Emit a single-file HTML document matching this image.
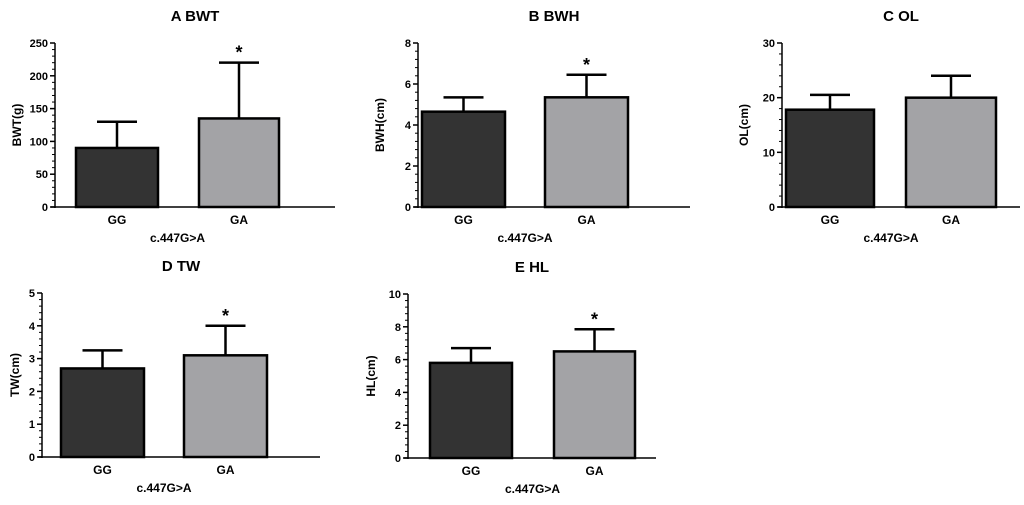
<!DOCTYPE html>
<html><head><meta charset="utf-8"><style>
html,body{margin:0;padding:0;background:#fff;}
svg{display:block;font-family:"Liberation Sans",Arial,sans-serif;}
</style></head><body>
<svg id="c" width="1024" height="505" viewBox="0 0 1024 505"></svg>
<script>
const categories = ["GG","GA"];
const panelTitles = ["A BWT","B BWH","C OL","D TW","E HL"];
const yTitles = ["BWT(g)","BWH(cm)","OL(cm)","TW(cm)","HL(cm)"];
const meansA = [90,135], errA = [130,220];
const meansB = [4.65,5.35], errB = [5.35,6.45];
const meansC = [17.8,20], errC = [20.5,24];
const meansD = [2.7,3.1], errD = [3.25,4.0];
const meansE = [5.8,6.5], errE = [6.7,7.85];
const ticksA = [0,50,100,150,200,250];
const ticksB = [0,2,4,6,8];
const ticksC = [0,10,20,30];
const ticksD = [0,1,2,3,4,5];
const ticksE = [0,2,4,6,8,10];
const sig = ["*","*","",'*','*'];
const NS="http://www.w3.org/2000/svg";
const svg=document.getElementById('c');
function mk(tag,attrs,parent,text){const e=document.createElementNS(NS,tag);for(const k in attrs)e.setAttribute(k,attrs[k]);if(text!==undefined)e.textContent=text;(parent||svg).appendChild(e);return e;}
const layouts=[
 {ax:55,top:43,bot:207,end:335,yo:38,bars:[[76,158],[199,279]]},
 {ax:418,top:43,bot:207,end:690,yo:38,bars:[[422,505],[545,628]]},
 {ax:782,top:43,bot:207,end:1020,yo:38,bars:[[786,874],[906,996]]},
 {ax:42,top:293,bot:457,end:320,yo:27,bars:[[61,144],[184,267]]},
 {ax:408,top:294,bot:458,end:656,yo:37,bars:[[430,512],[554,635]]}];
const means=[meansA,meansB,meansC,meansD,meansE];
const errs=[errA,errB,errC,errD,errE];
const ticks=[ticksA,ticksB,ticksC,ticksD,ticksE];
const colors=["#333333","#a3a3a6"];
layouts.forEach((L,p)=>{
 const g=mk('g',{});
 
 
 const t=ticks[p],mx=t[t.length-1];
 const y=v=>L.bot-(v/mx)*(L.bot-L.top);
 const cx=(L.ax+L.end)/2;
 const tt=mk('text',{x:cx,y:L.top-22,'text-anchor':'middle','font-size':15,'font-weight':'bold'},g,panelTitles[p]);
 
 L.bars.forEach((b,i)=>{
  const m=means[p][i],e=errs[p][i],bx=(b[0]+b[1])/2;
  const eb=mk('line',{x1:bx,x2:bx,y1:y(m),y2:y(e),stroke:'#000','stroke-width':2.5},g);
  
  mk('line',{x1:bx-20,x2:bx+20,y1:y(e),y2:y(e),stroke:'#000','stroke-width':2.5},g);
  const r=mk('rect',{x:b[0],y:y(m),width:b[1]-b[0],height:L.bot-y(m),fill:colors[i],stroke:'#000','stroke-width':2.5},g);
  
  const lb=mk('text',{x:bx,y:L.bot+17,'text-anchor':'middle','font-size':12,'font-weight':'bold'},g,categories[i]);
  
  if(i===1&&sig[p]){const s=mk('text',{x:bx,y:y(e)-4,'text-anchor':'middle','font-size':18,'font-weight':'bold'},g,sig[p]);
   }
 });
 const ya=mk('line',{x1:L.ax,x2:L.ax,y1:L.top,y2:L.bot+1,stroke:'#000','stroke-width':1.5},g);
 
 const xa=mk('line',{x1:L.ax-4,x2:L.end,y1:L.bot,y2:L.bot,stroke:'#000','stroke-width':1.5},g);
 
 t.forEach((v,k)=>{
  mk('line',{x1:L.ax-5,x2:L.ax,y1:y(v),y2:y(v),stroke:'#000','stroke-width':1.5},g);
  const tl=mk('text',{x:L.ax-7,y:y(v)+4,'text-anchor':'end','font-size':11,'font-weight':'bold'},g,v);
  
  if(k<t.length-1){const st=(t[k+1]-v)/5;for(let j=1;j<5;j++)mk('line',{x1:L.ax-3,x2:L.ax,y1:y(v+st*j),y2:y(v+st*j),stroke:'#000','stroke-width':1},g);}
 });
 const yt=mk('text',{x:0,y:0,'text-anchor':'middle','font-size':12,'font-weight':'bold',transform:`translate(${L.ax-L.yo+4},${(L.top+L.bot)/2}) rotate(-90)`},g,yTitles[p]);
 
 const xt=mk('text',{x:(L.bars[0][0]+L.bars[1][1])/2,y:L.bot+35,'text-anchor':'middle','font-size':12,'font-weight':'bold'},g,'c.447G>A');
 
});
</script>
</body></html>
